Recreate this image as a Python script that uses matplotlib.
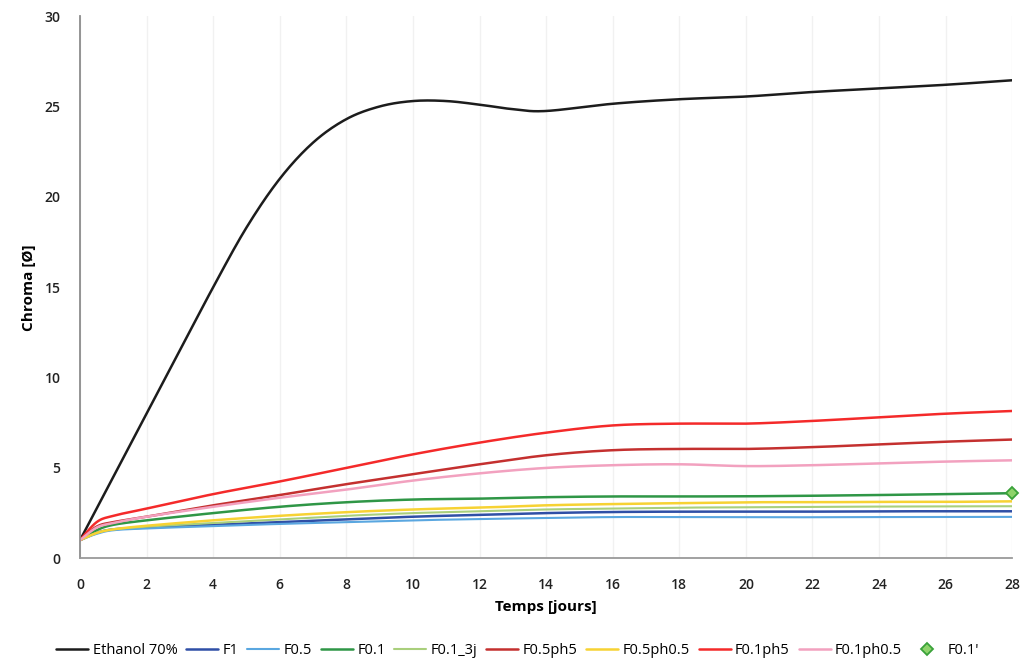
import numpy as np
import matplotlib
matplotlib.use("Agg")
import matplotlib.pyplot as plt

plt.rcParams["font.family"] = ["Open Sans", "DejaVu Sans"]

# values (days, chroma)
eth_days = [0, 1, 2, 3, 4, 5, 6, 7, 8, 9, 10, 11, 12, 13, 14, 16, 18, 20, 22, 24, 26, 28]
ethanol = [1.0, 4.5, 8.0, 11.5, 15.0, 18.3, 21.0, 23.0, 24.3, 25.0, 25.3, 25.3, 25.1, 24.85,
           24.75, 25.15, 25.4, 25.55, 25.8, 26.0, 26.2, 26.45]

days = [0, 0.5, 1, 2, 4, 6, 8, 10, 12, 14, 16, 18, 20, 22, 24, 26, 28]
f1 = [1.0, 1.4, 1.6, 1.7, 1.85, 2.0, 2.15, 2.3, 2.4, 2.5, 2.56, 2.58, 2.58, 2.58, 2.6, 2.6, 2.6]
f05 = [1.0, 1.35, 1.55, 1.65, 1.78, 1.9, 2.0, 2.1, 2.17, 2.23, 2.28, 2.28, 2.27, 2.27, 2.28, 2.28, 2.29]
f01 = [1.0, 1.55, 1.85, 2.1, 2.5, 2.85, 3.1, 3.25, 3.3, 3.38, 3.42, 3.42, 3.43, 3.46, 3.5, 3.55, 3.6]
f01_3j = [1.0, 1.4, 1.6, 1.75, 1.95, 2.15, 2.35, 2.5, 2.6, 2.7, 2.75, 2.8, 2.82, 2.84, 2.86, 2.87, 2.88]
f05ph5 = [1.0, 1.75, 2.0, 2.3, 2.93, 3.5, 4.1, 4.65, 5.2, 5.7, 5.98, 6.05, 6.05, 6.15, 6.3, 6.45, 6.57]
f05ph05 = [1.0, 1.4, 1.6, 1.8, 2.1, 2.35, 2.55, 2.7, 2.8, 2.93, 3.0, 3.05, 3.1, 3.1, 3.12, 3.12, 3.15]
f01ph5 = [1.0, 2.0, 2.35, 2.75, 3.55, 4.25, 5.0, 5.75, 6.4, 6.95, 7.35, 7.45, 7.45, 7.6, 7.8, 8.0, 8.15]
f01ph05 = [1.0, 1.7, 1.95, 2.3, 2.85, 3.35, 3.8, 4.3, 4.7, 5.0, 5.15, 5.2, 5.1, 5.15, 5.25, 5.35, 5.42]
f01p_day = [28]
f01p = [3.6]

x_ticks = list(range(0, 29, 2))
y_ticks = list(range(0, 31, 5))


def smooth(x, y, n=24):
    """Excel-style smoothed line: Catmull-Rom segments drawn as cubic Bezier."""
    p = np.column_stack([x, y]).astype(float)
    pts = [p[0]]
    t = np.linspace(0, 1, n)[1:, None]
    for i in range(len(p) - 1):
        p0 = p[max(i - 1, 0)]
        p1, p2 = p[i], p[i + 1]
        p3 = p[min(i + 2, len(p) - 1)]
        c1 = p1 + (p2 - p0) / 6.0
        c2 = p2 - (p3 - p1) / 6.0
        seg = ((1 - t) ** 3) * p1 + 3 * ((1 - t) ** 2) * t * c1 + 3 * (1 - t) * t ** 2 * c2 + t ** 3 * p2
        pts.extend(seg)
    pts = np.array(pts)
    return pts[:, 0], pts[:, 1]


fig = plt.figure(figsize=(10.35, 6.71), dpi=100)
ax = fig.add_axes([0.0773, 0.168, 0.9007, 0.808])

series = [
    ("Ethanol 70%", eth_days, ethanol, "#1c1c1c", 1.8),
    ("F1", days, f1, "#2f4fa6", 1.8),
    ("F0.5", days, f05, "#5aa7e0", 1.5),
    ("F0.1", days, f01, "#2f9646", 1.8),
    ("F0.1_3j", days, f01_3j, "#a9cf7c", 1.5),
    ("F0.5ph5", days, f05ph5, "#c4302f", 1.8),
    ("F0.5ph0.5", days, f05ph05, "#f7d233", 1.8),
    ("F0.1ph5", days, f01ph5, "#f42a2a", 1.8),
    ("F0.1ph0.5", days, f01ph05, "#f2a1bf", 1.8),
]

for label, xs, ys, col, lw in series:
    sx, sy = smooth(xs, ys)
    ax.plot(sx, sy, color=col, lw=lw, label=label, solid_capstyle="round")

ax.plot(f01p_day, f01p, linestyle="none", marker="D", markersize=6.5,
        markerfacecolor="#8ed36b", markeredgecolor="#3aa23a", markeredgewidth=1.3,
        label="F0.1'", clip_on=False)

ax.set_xlim(0, 28)
ax.set_ylim(0, 30)
ax.set_xticks(x_ticks)
ax.set_yticks(y_ticks)
ax.tick_params(axis="both", length=0, labelsize=10, colors="#222222")
ax.tick_params(axis="x", pad=14)
ax.tick_params(axis="y", pad=14)
for lbl in ax.get_xticklabels() + ax.get_yticklabels():
    lbl.set_fontweight("semibold")

ax.grid(axis="x", color="#f1f1f1", lw=1.0)
ax.set_axisbelow(True)
for side in ["top", "right"]:
    ax.spines[side].set_visible(False)
ax.spines["left"].set_color("#8c8c8c")
ax.spines["bottom"].set_color("#9a9a9a")
ax.spines["left"].set_linewidth(1.3)
ax.spines["bottom"].set_linewidth(1.3)

ax.set_xlabel("Temps [jours]", fontsize=11, fontweight="bold", labelpad=6)
ax.set_ylabel("Chroma [Ø]", fontsize=11, fontweight="bold", labelpad=6)

fig.legend(loc="lower center", bbox_to_anchor=(0.5, 0.0), ncol=10, frameon=False,
           fontsize=10.5, handlelength=2.2, handletextpad=0.3, columnspacing=0.6,
           borderaxespad=0.5)

fig.savefig("out.png", dpi=100, facecolor="white")
